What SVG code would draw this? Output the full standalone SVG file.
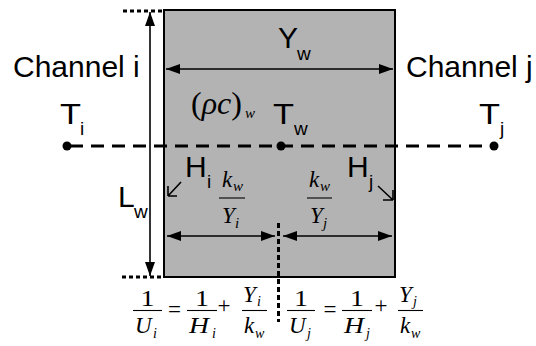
<svg xmlns="http://www.w3.org/2000/svg" width="536" height="346" viewBox="0 0 536 346">
<defs>
<marker id="ah" viewBox="0 0 14 10" refX="14" refY="5" markerWidth="14" markerHeight="10" markerUnits="userSpaceOnUse" orient="auto-start-reverse">
<path d="M0,0 L14,5 L0,10 Z" fill="#000"/>
</marker>
<style>
.lbl{font-family:"Liberation Sans",Arial,sans-serif;font-size:30px;fill:#000}
.sub{font-family:"Liberation Sans",Arial,sans-serif;font-size:19px;fill:#000}
.m{font-family:"Liberation Serif","Times New Roman",serif;font-style:italic;fill:#000}
.mu{font-family:"Liberation Serif","Times New Roman",serif;font-style:normal;fill:#000}
.f{font-size:23px}
.fs{font-size:14px}
.ln{stroke:#000;stroke-width:1.6;fill:none}
.bar{stroke:#000;stroke-width:1.1}
.dash{stroke:#000;stroke-width:3.2;fill:none;stroke-dasharray:13 8}
.dot3{stroke:#000;stroke-width:3;fill:none;stroke-dasharray:4 3}
</style>
</defs>
<rect width="536" height="346" fill="#fff"/>
<g id="wall">
<rect x="164" y="10" width="231" height="267" fill="#b3b3b3" stroke="#000" stroke-width="2"/>
</g>
<g id="connectors">
<line class="dot3" x1="123" y1="11" x2="163" y2="11"/>
<line class="dot3" x1="122" y1="277" x2="163" y2="277"/>
<line class="ln" x1="150" y1="12" x2="150" y2="276" marker-start="url(#ah)" marker-end="url(#ah)"/>
<line class="ln" x1="166" y1="69" x2="393" y2="69" marker-start="url(#ah)" marker-end="url(#ah)"/>
<line class="dash" x1="70" y1="146" x2="494" y2="146"/>
<line class="ln" x1="167" y1="236" x2="275" y2="236" marker-start="url(#ah)" marker-end="url(#ah)"/>
<line class="ln" x1="283" y1="236" x2="392" y2="236" marker-start="url(#ah)" marker-end="url(#ah)"/>
<line class="dot3" x1="278.5" y1="223" x2="278.5" y2="322" style="stroke-dasharray:5 3"/>
<path class="ln" d="M181,182 L168,196 M168,196 H177 M168,196 V186"/>
<path class="ln" d="M378,186 L393,200 M393,200 H383 M393,200 V190"/>
</g>
<g id="Ti">
<circle cx="67" cy="146" r="4.5" fill="#000"/>
<text class="lbl" x="60" y="124" textLength="21" lengthAdjust="spacingAndGlyphs">T</text>
<text class="sub" x="80" y="135">i</text>
</g>
<g id="Tw">
<circle cx="281" cy="146" r="4.5" fill="#000"/>
<text class="lbl" x="273" y="124" textLength="21" lengthAdjust="spacingAndGlyphs">T</text>
<text class="sub" x="294" y="135">w</text>
</g>
<g id="Tj">
<circle cx="494" cy="146" r="4.5" fill="#000"/>
<text class="lbl" x="479" y="124" textLength="21" lengthAdjust="spacingAndGlyphs">T</text>
<text class="sub" x="500" y="135">j</text>
</g>
<g id="channel-i"><text class="lbl" x="13" y="77">Channel i</text></g>
<g id="channel-j"><text class="lbl" x="406" y="77">Channel j</text></g>
<g id="Yw"><text class="lbl" x="278" y="48">Y</text><text class="sub" x="297" y="60">w</text></g>
<g id="Lw"><text class="lbl" x="118" y="207">L</text><text class="sub" x="134" y="218">w</text></g>
<g id="Hi"><text class="lbl" x="185" y="177">H</text><text class="sub" x="207" y="188">i</text></g>
<g id="Hj"><text class="lbl" x="347" y="177">H</text><text class="sub" x="369" y="188">j</text></g>
<g id="rhoc">
<text class="mu" x="191" y="114" font-size="32">(<tspan class="m">ρc</tspan>)</text>
<text class="m" x="245" y="118" font-size="15">w</text>
</g>
<g id="frac-i">
<text class="m f" x="222" y="187">k</text><text class="m" font-size="15" x="233" y="191">w</text>
<line class="bar" x1="219" y1="198" x2="245" y2="198"/>
<text class="m f" x="222" y="223">Y</text><text class="m" font-size="15" x="235" y="228">i</text>
</g>
<g id="frac-j">
<text class="m f" x="309" y="187">k</text><text class="m" font-size="15" x="320" y="191">w</text>
<line class="bar" x1="307" y1="198" x2="332" y2="198"/>
<text class="m f" x="310" y="223">Y</text><text class="m" font-size="15" x="323" y="228">j</text>
</g>
<g id="eq-i">
<text class="mu f" x="140.5" y="306" textLength="14" lengthAdjust="spacingAndGlyphs">1</text>
<line class="bar" x1="133" y1="310.5" x2="162" y2="310.5"/>
<text class="m f" x="135" y="333">U</text><text class="m fs" x="153" y="338">i</text>
<text class="mu f" x="174.5" y="317" text-anchor="middle">=</text>
<text class="mu f" x="195" y="306" textLength="14" lengthAdjust="spacingAndGlyphs">1</text>
<line class="bar" x1="187" y1="310.5" x2="217" y2="310.5"/>
<text class="m f" x="189" y="333" textLength="20" lengthAdjust="spacingAndGlyphs">H</text><text class="m fs" x="212" y="338">i</text>
<text class="mu f" x="224" y="313" text-anchor="middle">+</text>
<text class="m f" x="243" y="302">Y</text><text class="m fs" x="257" y="306">i</text>
<line class="bar" x1="242" y1="310.5" x2="267" y2="310.5"/>
<text class="m f" x="244" y="333">k</text><text class="m fs" x="255" y="338">w</text>
</g>
<g id="eq-j">
<text class="mu f" x="294" y="306" textLength="14" lengthAdjust="spacingAndGlyphs">1</text>
<line class="bar" x1="287" y1="310.5" x2="315" y2="310.5"/>
<text class="m f" x="289" y="333">U</text><text class="m fs" x="307" y="338">j</text>
<text class="mu f" x="330" y="317" text-anchor="middle">=</text>
<text class="mu f" x="350" y="306" textLength="14" lengthAdjust="spacingAndGlyphs">1</text>
<line class="bar" x1="342" y1="310.5" x2="372" y2="310.5"/>
<text class="m f" x="344" y="333" textLength="20" lengthAdjust="spacingAndGlyphs">H</text><text class="m fs" x="366" y="338">j</text>
<text class="mu f" x="381" y="313" text-anchor="middle">+</text>
<text class="m f" x="399" y="302">Y</text><text class="m fs" x="413" y="306">j</text>
<line class="bar" x1="398" y1="310.5" x2="423" y2="310.5"/>
<text class="m f" x="400" y="333">k</text><text class="m fs" x="411" y="338">w</text>
</g>
</svg>
